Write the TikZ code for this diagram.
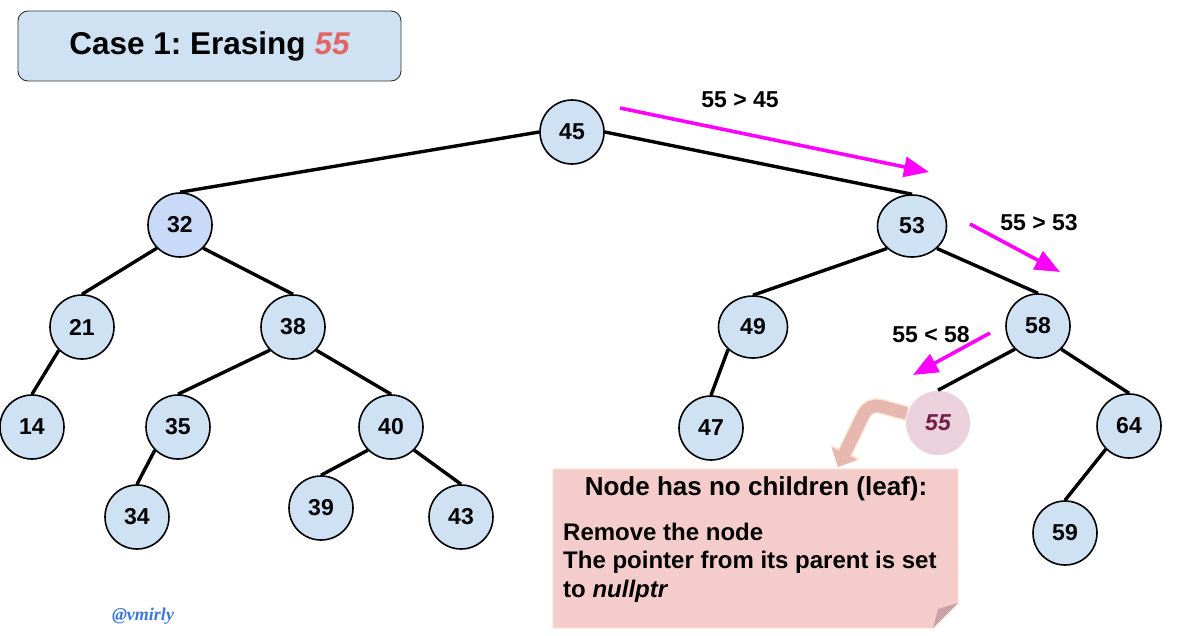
\documentclass[tikz,border=0pt]{standalone}
\usepackage{fontspec}
\setmainfont{Liberation Sans}
\newfontfamily\sigfont{Liberation Serif}
\usetikzlibrary{arrows.meta,shapes.geometric}
\definecolor{nodeblue}{HTML}{CFE2F3}
\definecolor{rootblue}{HTML}{C9DAF8}
\definecolor{delpink}{HTML}{EAD1DC}
\definecolor{deltext}{HTML}{741B47}
\definecolor{titlered}{HTML}{E06666}
\definecolor{notepink}{HTML}{F4CCCC}
\definecolor{notebord}{HTML}{FCE5CD}
\definecolor{folddark}{HTML}{C9A3A3}
\definecolor{salmon}{HTML}{E6B8AF}
\definecolor{magarrow}{HTML}{FF00FF}
\definecolor{sigblue}{HTML}{3C78D8}
\definecolor{titlebord}{HTML}{333333}
\frenchspacing
\begin{document}
\begin{tikzpicture}[x=1pt,y=-1pt,
  treenode/.style={circle, draw=black, line width=1.6pt, fill=nodeblue, minimum size=64pt, inner sep=0pt, font=\fontsize{23}{27}\selectfont\bfseries},
  ovalnode/.style={treenode, ellipse, minimum width=69pt, minimum height=62pt},
  treeedge/.style={draw=black, line width=3.4pt},
  searcharrow/.style={draw=magarrow, line width=3.6pt, -{Triangle[length=25pt,width=20pt]}},
  cmplabel/.style={font=\fontsize{23}{26}\selectfont\bfseries, inner sep=0pt},
  bodytext/.style={font=\fontsize{24}{28}\selectfont\bfseries, inner sep=0pt, anchor=base west}
]
\useasboundingbox (0,0) rectangle (1177,635);

% title
\node[draw=titlebord, line width=0.9pt, fill=nodeblue, rounded corners=10pt, minimum width=383pt, minimum height=70pt, inner sep=0pt, font=\fontsize{31.5}{36}\selectfont\bfseries] (title) at (209.5,46) {Case 1: Erasing \textcolor{titlered}{\itshape 55}};

% tree nodes
\node[treenode] (n45) at (572,132) {45};
\node[treenode, fill=rootblue] (n32) at (180,225) {32};
\node[ovalnode] (n53) at (912,226) {53};
\node[treenode] (n21) at (82,327) {21};
\node[treenode] (n38) at (293,327) {38};
\node[ovalnode] (n49) at (753,327) {49};
\node[treenode] (n58) at (1038,326) {58};
\node[treenode] (n14) at (32,427) {14};
\node[treenode] (n35) at (178,427) {35};
\node[treenode] (n40) at (391,427) {40};
\node[treenode] (n47) at (711,428) {47};
\node[treenode, draw=none, fill=delpink, text=deltext, font=\fontsize{23}{27}\selectfont\bfseries\itshape] (n55) at (938,423) {55};
\node[treenode] (n64) at (1129,426) {64};
\node[treenode] (n34) at (137,517) {34};
\node[treenode] (n39) at (321,508) {39};
\node[treenode] (n43) at (461,517) {43};
\node[treenode] (n59) at (1065,533) {59};

% tree edges
\draw[treeedge] (n45.west) -- (n32.north);
\draw[treeedge] (n45.east) -- (n53.north);
\draw[treeedge] (n32.south west) -- (n21.north);
\draw[treeedge] (n32.south east) -- (n38.north);
\draw[treeedge] (n21.south west) -- (n14.north);
\draw[treeedge] (n38.south west) -- (n35.north);
\draw[treeedge] (n38.south east) -- (n40.north);
\draw[treeedge] (n35.south west) -- (n34.north);
\draw[treeedge] (n40.south west) -- (n39.north);
\draw[treeedge] (n40.south east) -- (n43.north);
\draw[treeedge] (n53.south west) -- (n49.north);
\draw[treeedge] (n53.south east) -- (n58.north);
\draw[treeedge] (n49.south west) -- (n47.north);
\draw[treeedge] (n58.south west) -- (n55.north);
\draw[treeedge] (n58.south east) -- (n64.north);
\draw[treeedge] (n64.south west) -- (n59.north);

% search arrows
\coordinate (a1s) at (620,108);
\coordinate (a1e) at (929,172);
\coordinate (a2s) at (970,224);
\coordinate (a2e) at (1060,272);
\coordinate (a3s) at (990,333);
\coordinate (a3e) at (913,375);
\draw[searcharrow] (a1s) -- (a1e);
\draw[searcharrow] (a2s) -- (a2e);
\draw[searcharrow] (a3s) -- (a3e);
\node[cmplabel] (c1) at (740,100) {55 > 45};
\node[cmplabel] (c2) at (1039,223) {55 > 53};
\node[cmplabel] (c3) at (931,335) {55 < 58};

% note
\path[fill=notepink, draw=notebord, line width=0.8pt] (553,469) -- (958,469) -- (958,603) -- (933,628) -- (553,628) -- cycle;
\fill[folddark] (958,603) -- (938,609) -- (933,628) -- cycle;
\node[font=\fontsize{26}{30}\selectfont\bfseries, inner sep=0pt, anchor=base] (nh) at (756,495) {Node has no children (leaf):};
\node[bodytext] (b1) at (563,540) {Remove the node};
\node[bodytext] (b2) at (563,568) {The pointer from its parent is set};
\node[bodytext] (b3) at (563,597) {to \itshape nullptr};

% curved arrow from deleted node to note
\coordinate (bend) at (869,403);
\coordinate (tip) at (838,467);
\draw[notebord, line width=15pt, rounded corners=12pt, -{Triangle[length=17pt,width=31pt]}] (n55.163) -- (bend) -- (tip);
\draw[salmon, line width=12.5pt, rounded corners=12pt, -{Triangle[length=15pt,width=28pt]}] (n55.163) -- (bend) -- (tip);

% signature
\node[font=\fontsize{18}{21}\sigfont\bfseries\itshape, text=sigblue, inner sep=0pt] (sig) at (143,616) {@vmirly};
\end{tikzpicture}
\end{document}
